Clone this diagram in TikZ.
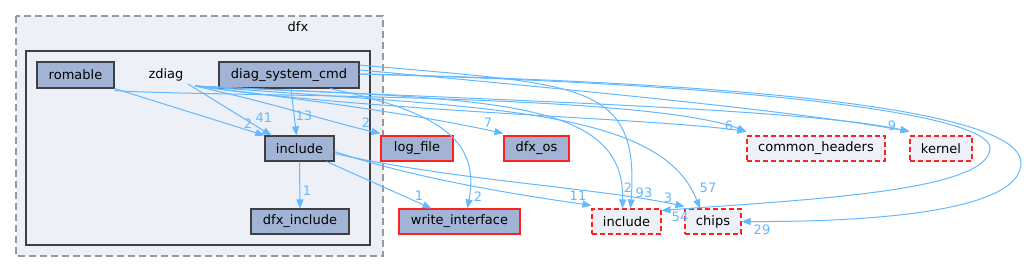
\documentclass[tikz,border=0pt]{standalone}
\usepackage{fontspec}
\setmainfont{DejaVu Sans}
\usetikzlibrary{arrows.meta}
\definecolor{edgec}{HTML}{63B8FF}
\definecolor{nodef}{HTML}{A2B4D6}
\definecolor{clf}{HTML}{EDF0F7}
\definecolor{darkb}{HTML}{404040}
\definecolor{clgray}{HTML}{999999}
\definecolor{redb}{HTML}{FF2020}
\tikzset{
  dirnode/.style={draw=darkb, fill=nodef, line width=1.1pt, inner sep=0pt, font=\fontsize{13}{15}\selectfont},
  rednode/.style={draw=redb, fill=nodef, line width=1.1pt, inner sep=0pt, font=\fontsize{13}{15}\selectfont},
  extnode/.style={draw=redb, fill=clf, dash pattern=on 5pt off 3pt, line width=1.1pt, inner sep=0pt, font=\fontsize{13}{15}\selectfont},
  dep/.style={draw=edgec, line width=1pt, -{Triangle[length=9pt,width=7pt]}},
  elab/.style={text=edgec, inner sep=0pt, font=\fontsize{13}{15}\selectfont},
  cllab/.style={inner sep=0pt, font=\fontsize{13}{15}\selectfont},
}
\begin{document}
\begin{tikzpicture}[x=1pt,y=-1pt]
\useasboundingbox (0,0) rectangle (1026,272);
% clusters
\draw[clgray, fill=clf, line width=1.2pt, dash pattern=on 7pt off 4pt] (16,16) rectangle (383,256);
\node[cllab] (dfxl) at (298,27) {dfx};
\draw[darkb, fill=clf, line width=2pt] (26,51) rectangle (370,245);
\node[cllab] (zdiagl) at (166,75) {zdiag};
\coordinate (zd) at (195,86);
% nodes
\node[dirnode, minimum width=77pt, minimum height=26pt] (romable) at (75.5,75) {romable};
\node[dirnode, minimum width=140pt, minimum height=26pt] (dsc) at (289,75) {diag\_system\_cmd};
\node[dirnode, minimum width=69pt, minimum height=25pt] (inc) at (299.5,148.5) {include};
\node[dirnode, minimum width=98pt, minimum height=25pt] (dfxinc) at (300,221.5) {dfx\_include};
\node[rednode, minimum width=72pt, minimum height=25pt] (logf) at (417,148.5) {log\_file};
\node[rednode, minimum width=65pt, minimum height=25pt] (dfxos) at (536.5,148.5) {dfx\_os};
\node[rednode, minimum width=121pt, minimum height=25pt] (wi) at (459.5,221.5) {write\_interface};
\node[extnode, minimum width=138pt, minimum height=25pt] (ch) at (816,148.5) {common\_headers};
\node[extnode, minimum width=62pt, minimum height=25pt] (kern) at (941,148.5) {kernel};
\node[extnode, minimum width=69pt, minimum height=25pt] (incout) at (626.5,221.5) {include};
\node[extnode, minimum width=56pt, minimum height=25pt] (chips) at (713,221.5) {chips};
% edges
\draw[dep] (romable.south east) -- ([xshift=0pt]inc.north west);
\node[elab] at (248,124) {2};
\draw[dep] ([xshift=-7pt,yshift=2pt]zd) -- ([xshift=7pt]inc.north west);
\node[elab] at (264,118) {41};
\draw[dep] ([xshift=2pt]dsc.south) -- ([xshift=-3pt]inc.north);
\node[elab] at (304,116) {13};
\draw[dep] (inc.south) -- (dfxinc.north);
\node[elab] at (307,191) {1};
\draw[dep] ([xshift=-8pt]inc.south east) -- ([xshift=-28pt]wi.north);
\node[elab] at (419,196) {1};
\draw[dep] ([xshift=41pt]dsc.south) .. controls (440,112) and (480,140) .. ([xshift=8pt]wi.north);
\node[elab] at (478,197) {2};
\draw[dep] (zd) .. controls (280,105) and (330,122) .. ([yshift=2pt]logf.north west);
\node[elab] at (366,123) {2};
\draw[dep] (zd) .. controls (310,100) and (420,115) .. ([yshift=2pt]dfxos.north west);
\node[elab] at (488,123) {7};
\draw[dep] ([yshift=-3pt]inc.east) .. controls (420,180) and (520,195) .. ([yshift=3pt]incout.north west);
\node[elab] at (578,196) {11};
\draw[dep] ([yshift=-5pt]inc.east) .. controls (450,180) and (600,188) .. ([yshift=2pt]chips.north west);
\node[elab] at (668,198) {3};
\draw[dep] (zd) .. controls (480,100) and (625,95) .. ([xshift=-4pt]incout.north);
\node[elab] at (628,188) {2};
\draw[dep] ([yshift=10pt]dsc.east) .. controls (580,85) and (640,80) .. ([xshift=4pt]incout.north);
\node[elab] at (644,193) {93};
\draw[dep] (zd) .. controls (470,108) and (660,105) .. ([xshift=-13pt]chips.north);
\node[elab] at (708,188) {57};
\draw[dep] ([yshift=-2pt]romable.south east) .. controls (200,97) and (640,92) .. ([yshift=4pt]ch.north west);
\draw[dep] (zd) .. controls (380,112) and (650,118) .. ([yshift=4pt]ch.north west);
\node[elab] at (729,126) {6};
\draw[dep] ([yshift=5pt]dsc.east) .. controls (600,92) and (800,112) .. ([yshift=4pt]kern.north west);
\draw[dep] (zd) .. controls (480,100) and (800,108) .. ([yshift=4pt]kern.north west);
\node[elab] at (892,126) {9};
\draw[dep] ([yshift=1pt]dsc.east) .. controls (800,84) and (1021,115) .. (1021,163) .. controls (1021,215) and (850,222) .. (chips.east);
\node[elab] at (762,230) {29};
\draw[dep] ([yshift=1pt]dsc.east) .. controls (800,86) and (990,118) .. (990,148) .. controls (990,192) and (800,200) .. ([yshift=-2pt]incout.north east);
\node[elab] at (680,217) {54};
\end{tikzpicture}
\end{document}
